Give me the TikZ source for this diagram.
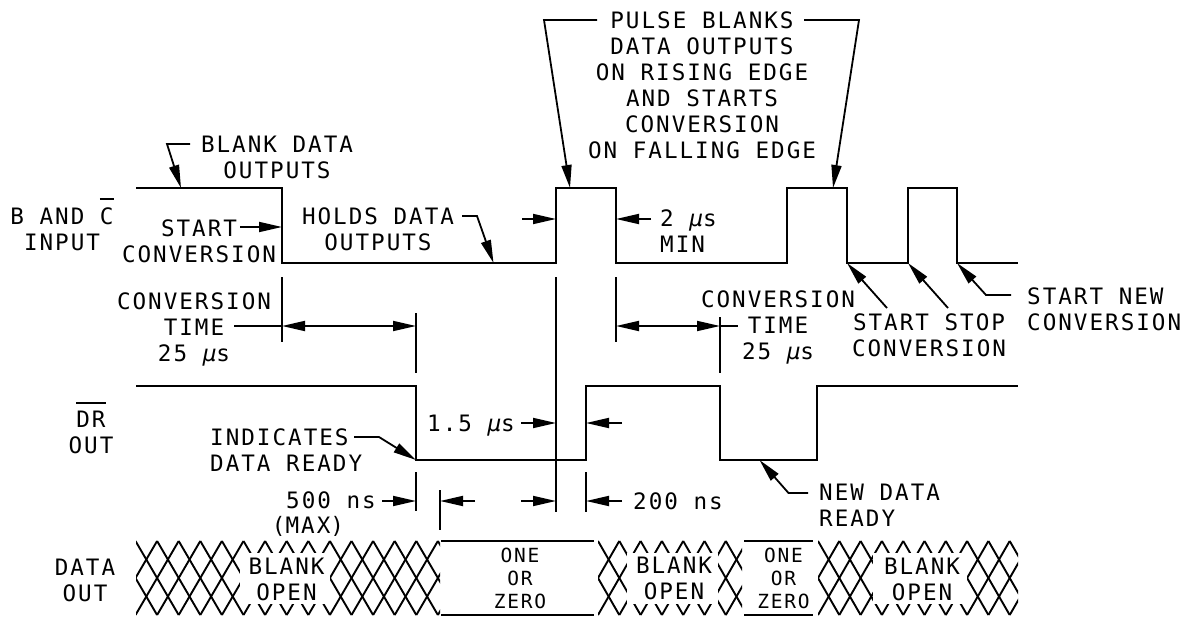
\documentclass[tikz,border=0pt]{standalone}
\usepackage{fontspec}
\setmainfont[LetterSpace=8.8]{DejaVu Sans Mono}
\usetikzlibrary{arrows.meta}
\newlength\ovw
\newcommand\ovbar[1]{\settowidth\ovw{#1}\rlap{\smash{\rule[24pt]{\ovw}{1.8pt}}}#1}
\newcommand\mus{{\itshape\smash{μ}}s}
\tikzset{
  headtip/.tip={Triangle[length=23pt,width=10pt]},
  trace/.style={line width=2pt,line join=miter},
  dimline/.style={line width=1.8pt},
  arr/.style={line width=1.8pt,-headtip},
  darr/.style={line width=1.8pt,headtip-headtip},
  lbl/.style={inner sep=0pt,align=center,font=\fontsize{22.6}{26}\selectfont},
  lbll/.style={inner sep=0pt,align=left,anchor=west,font=\fontsize{22.6}{26}\selectfont},
  small/.style={inner sep=0pt,align=center,font=\fontsize{19.5}{23}\selectfont},
  lattice/.style={line width=1.9pt},
  mask/.style={fill=white,draw=none},
}
\newcommand\lat[5]{% x0 x1 phase pitch nlines
  \begin{scope}
    \clip (#1,540) rectangle (#2,616);
    \foreach \k in {-4,...,#5} {
      \draw[lattice] ({#3+\k*#4},541) -- ({#3+(\k+2)*#4},615);
      \draw[lattice] ({#3+\k*#4},541) -- ({#3+(\k-2)*#4},615);
    }
  \end{scope}}
\begin{document}
\begin{tikzpicture}[x=1pt,y=-1pt]
\useasboundingbox (0,0) rectangle (1186,618);
% B and C input trace
\coordinate (b0) at (136,188); \coordinate (b1) at (282,188); \coordinate (b2) at (282,263);
\coordinate (b3) at (556,263); \coordinate (b4) at (556,188); \coordinate (b5) at (616,188);
\coordinate (b6) at (616,263); \coordinate (b7) at (787,263); \coordinate (b8) at (787,188);
\coordinate (b9) at (847,188); \coordinate (b10) at (847,263); \coordinate (b11) at (908,263);
\coordinate (b12) at (908,188); \coordinate (b13) at (957,188); \coordinate (b14) at (957,263);
\coordinate (b15) at (1018,263);
\draw[trace] (b0) -- (b1) -- (b2) -- (b3) -- (b4) -- (b5) -- (b6) -- (b7) -- (b8) -- (b9) -- (b10) -- (b11) -- (b12) -- (b13) -- (b14) -- (b15);
% DR trace
\coordinate (d0) at (136,386); \coordinate (d1) at (416,386); \coordinate (d2) at (416,460);
\coordinate (d3) at (586,460); \coordinate (d4) at (586,386); \coordinate (d5) at (720,386);
\coordinate (d6) at (720,460); \coordinate (d7) at (817,460); \coordinate (d8) at (817,386);
\coordinate (d9) at (1018,386);
\draw[trace] (d0) -- (d1) -- (d2) -- (d3) -- (d4) -- (d5) -- (d6) -- (d7) -- (d8) -- (d9);
% extension lines
\coordinate (e1a) at (282,277); \coordinate (e1b) at (282,342);
\coordinate (e2a) at (416,313); \coordinate (e2b) at (416,373);
\coordinate (e3a) at (556,277); \coordinate (e3b) at (556,512);
\coordinate (e4a) at (616,277); \coordinate (e4b) at (616,342);
\coordinate (e5a) at (720,317); \coordinate (e5b) at (720,373);
\coordinate (e6a) at (416,472); \coordinate (e6b) at (416,511);
\coordinate (e7a) at (440,490); \coordinate (e7b) at (440,530);
\coordinate (e8a) at (586,472); \coordinate (e8b) at (586,512);
\foreach \n in {1,...,8} \draw[dimline] (e\n a) -- (e\n b);
% dimension arrows
\coordinate (m1l) at (282,326); \coordinate (m1r) at (416,326); \coordinate (m1t) at (234,326);
\draw[darr] (m1l) -- (m1r); \draw[dimline] (m1t) -- (m1l);
\coordinate (m2l) at (616,326); \coordinate (m2r) at (720,326); \coordinate (m2t) at (738,326);
\draw[darr] (m2l) -- (m2r); \draw[dimline] (m2r) -- (m2t);
\coordinate (a1s) at (522,219); \coordinate (a1e) at (556,219); \draw[arr] (a1s) -- (a1e);
\coordinate (a2s) at (651,219); \coordinate (a2e) at (616,219); \draw[arr] (a2s) -- (a2e);
\coordinate (a3s) at (240,227); \coordinate (a3e) at (282,227); \draw[arr] (a3s) -- (a3e);
\coordinate (a4s) at (521,423); \coordinate (a4e) at (556,423); \draw[arr] (a4s) -- (a4e);
\coordinate (a5s) at (622,423); \coordinate (a5e) at (586,423); \draw[arr] (a5s) -- (a5e);
\coordinate (a6s) at (382,501); \coordinate (a6e) at (416,501); \draw[arr] (a6s) -- (a6e);
\coordinate (a7s) at (475,501); \coordinate (a7e) at (440,501); \draw[arr] (a7s) -- (a7e);
\coordinate (a8s) at (521,501); \coordinate (a8e) at (556,501); \draw[arr] (a8s) -- (a8e);
\coordinate (a9s) at (622,501); \coordinate (a9e) at (586,501); \draw[arr] (a9s) -- (a9e);
% leaders
\coordinate (l1a) at (190,144); \coordinate (l1b) at (167,144); \coordinate (l1c) at (181,188);
\draw[arr] (l1a) -- (l1b) -- (l1c);
\coordinate (l2a) at (462,216); \coordinate (l2b) at (477,216); \coordinate (l2c) at (493.5,263);
\draw[arr] (l2a) -- (l2b) -- (l2c);
\coordinate (l3a) at (597,20); \coordinate (l3b) at (544,20); \coordinate (l3c) at (570,188);
\draw[arr] (l3a) -- (l3b) -- (l3c);
\coordinate (l4a) at (804,20); \coordinate (l4b) at (859,20); \coordinate (l4c) at (833,188);
\draw[arr] (l4a) -- (l4b) -- (l4c);
\coordinate (l5a) at (887,308); \draw[arr] (l5a) -- (b10);
\coordinate (l6a) at (948,308); \draw[arr] (l6a) -- (b11);
\coordinate (l7a) at (1011,295); \coordinate (l7b) at (986,295); \draw[arr] (l7a) -- (l7b) -- (b14);
\coordinate (l8a) at (354,437); \coordinate (l8b) at (379,437); \draw[arr] (l8a) -- (l8b) -- (d2);
\coordinate (l9a) at (808,493); \coordinate (l9b) at (788.5,493); \coordinate (l9c) at (759.5,460);
\draw[arr] (l9a) -- (l9b) -- (l9c);
% data out
\lat{136}{440}{135.5}{21.6}{16}
\fill[mask] (240,553) rectangle (330,604);
\lat{598}{742}{598}{21.3}{9}
\fill[mask] (627,553) rectangle (718,604);
\lat{818}{1018}{818}{21.3}{12}
\fill[mask] (873,553) rectangle (967,604);
\coordinate (s1a) at (441,541); \coordinate (s1b) at (594,541); \draw[trace] (s1a) -- (s1b);
\coordinate (s2a) at (441,615); \coordinate (s2b) at (594,615); \draw[trace] (s2a) -- (s2b);
\coordinate (s3a) at (744,541); \coordinate (s3b) at (813,541); \draw[trace] (s3a) -- (s3b);
\coordinate (s4a) at (744,615); \coordinate (s4b) at (813,615); \draw[trace] (s4a) -- (s4b);
% labels
\node[lbl] (t1) at (62,229) {B AND \ovbar{C}\\INPUT};
\node[lbl] (t2) at (277,157) {BLANK DATA\\OUTPUTS};
\node[lbl] (t3) at (199,241.5) {START\\CONVERSION};
\node[lbl] (t4) at (378,229) {HOLDS DATA\\OUTPUTS};
\node[lbl] (t5) at (194,327) {CONVERSION\\TIME\\25 \mus};
\node[lbl] (t6) at (702,85) {PULSE BLANKS\\DATA OUTPUTS\\ON RISING EDGE\\AND STARTS\\CONVERSION\\ON FALLING EDGE};
\node[lbll] (t7) at (660,231.5) {2 \mus\\MIN};
\node[lbl] (t8) at (778,325) {CONVERSION\\TIME\\25 \mus};
\node[lbl] (t9) at (929,335) {START STOP\\CONVERSION};
\node[lbll] (t10) at (1027,309) {START NEW\\CONVERSION};
\node[lbl] (t11) at (91,432.5) {\ovbar{DR}\\OUT};
\node[lbll] (t12) at (210,450) {INDICATES\\DATA READY};
\node[lbl] (t13) at (471,423) {1.5 \mus};
\node[lbl] (t14) at (331,500) {500 ns};
\node[lbl] (t15) at (308,525) {\smash{(}MAX\smash{)}};
\node[lbl] (t16) at (678,501) {200 ns};
\node[lbll] (t17) at (819,505.5) {NEW DATA\\READY};
\node[lbl] (t18) at (85,580) {DATA\\OUT};
\node[lbl] (t19) at (286.5,579.5) {BLANK\\OPEN};
\node[small] (t20) at (520,578.5) {ONE\\OR\\ZERO};
\node[lbl] (t21) at (674,578.5) {BLANK\\OPEN};
\node[small] (t22) at (783.5,578.5) {ONE\\OR\\ZERO};
\node[lbl] (t23) at (922,579) {BLANK\\OPEN};
\end{tikzpicture}
\end{document}
